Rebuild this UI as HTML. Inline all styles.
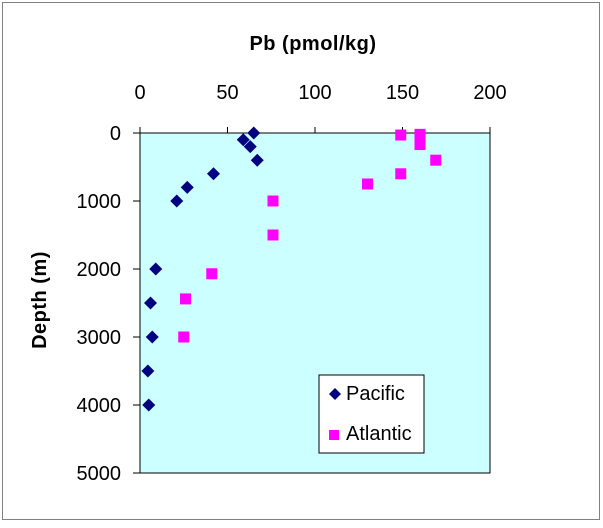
<!DOCTYPE html>
<html><head><meta charset="utf-8"><style>
body{margin:0;background:#fff}
svg text{font-family:"Liberation Sans",Arial,sans-serif;font-size:20px;fill:#000}
</style></head><body>
<svg width="603" height="523">
<rect x="2.5" y="2.5" width="597" height="517" fill="#fff" stroke="#808080"/>
<rect x="140" y="133" width="350" height="340" fill="#ccffff" stroke="#000"/>
<text x="313" y="50" text-anchor="middle" font-weight="bold" letter-spacing="0.5">Pb (pmol/kg)</text>
<text transform="translate(46,300) rotate(-90)" text-anchor="middle" font-weight="bold" letter-spacing="0.5">Depth (m)</text>
<g id="axes"></g><g id="marks"></g>
<g>
<rect x="319" y="375" width="105" height="78" fill="#fff" stroke="#000"/>
<path d="M335 388 L341 394 L335 400 L329 394Z" fill="#000080"/>
<text x="346" y="400">Pacific</text>
<rect x="329" y="430" width="10" height="10" fill="#ff00ff"/>
<text x="346" y="440">Atlantic</text>
</g>
</svg>
<script>
const xTicks=[0,50,100,150,200];
const yTicks=[0,1000,2000,3000,4000,5000];
const pacificPb=[65,59,63,67,42,27,21,9,6,7,4.5,5];
const pacificDepth=[0,100,200,400,600,800,1000,2000,2500,3000,3500,4000];
const atlanticPb=[149,160,160,169,149,130,76,76,41,26,25];
const atlanticDepth=[30,20,170,400,600,750,1000,1500,2070,2440,3000];
const NS="http://www.w3.org/2000/svg";
const X=v=>140+v*350/200, Y=v=>133+v*340/5000;
const axes=document.getElementById('axes'), marks=document.getElementById('marks');
function mk(t,a,p){const e=document.createElementNS(NS,t);for(const k in a)e.setAttribute(k,a[k]);p.appendChild(e);return e;}
xTicks.forEach(v=>{
 const l=mk('line',{x1:X(v),x2:X(v),y1:127,y2:133,stroke:'#000'},axes);
 
 
 const t=mk('text',{x:X(v),y:99,'text-anchor':'middle'},axes);t.textContent=v;
 
 
});
yTicks.forEach(v=>{
 const l=mk('line',{x1:133,x2:140,y1:Y(v),y2:Y(v),stroke:'#000'},axes);
 
 
 const t=mk('text',{x:121,y:Y(v)+7,'text-anchor':'end'},axes);t.textContent=v;
 
 
});
pacificPb.forEach((v,i)=>{
 const x=X(v),y=Y(pacificDepth[i]);
 const p=mk('path',{d:`M${x} ${y-6.5}L${x+6.5} ${y}L${x} ${y+6.5}L${x-6.5} ${y}Z`,fill:'#000080'},marks);
 
 
});
atlanticPb.forEach((v,i)=>{
 const r=mk('rect',{x:X(v)-5.5,y:Y(atlanticDepth[i])-5.5,width:11,height:11,fill:'#ff00ff'},marks);
 
 
});
</script>
</body></html>
